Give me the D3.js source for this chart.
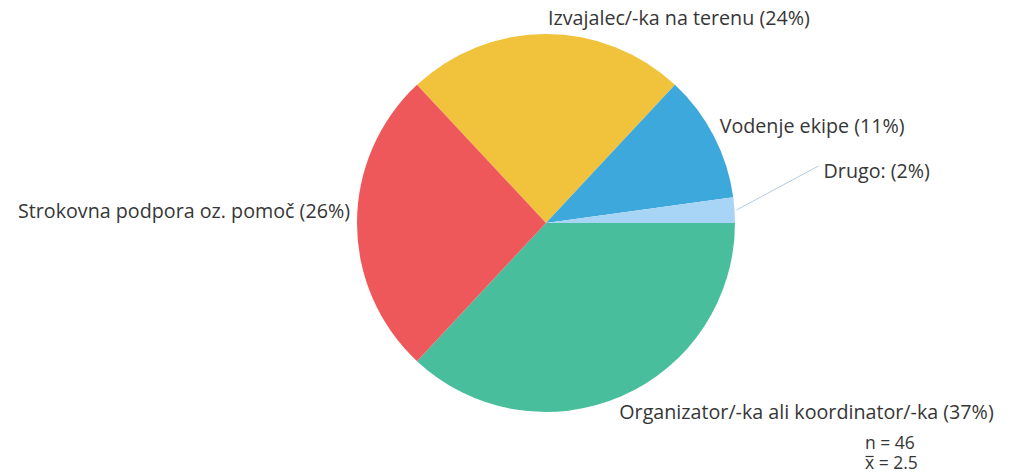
<!DOCTYPE html>
<html>
<head>
<meta charset="utf-8">
<script src="https://cdn.jsdelivr.net/npm/d3@7"></script>
<style>
  body { margin: 0; background: #fff; }
  text { font-family: "Open Sans", "Noto Sans", sans-serif; fill: #363636; }
</style>
</head>
<body>
<svg id="chart" width="1013" height="472"></svg>
<script>
// categories in drawing order (clockwise from the top-left edge of the yellow slice)
var categories = ["Izvajalec/-ka na terenu", "Vodenje ekipe", "Drugo:", "Organizator/-ka ali koordinator/-ka", "Strokovna podpora oz. pomoč"];
var counts = [11, 5, 1, 17, 12];
var colors = ["#f1c23c", "#3ca8db", "#a8d5f5", "#48be9c", "#ef585b"];
var nTotal = 46;
var mean = 2.5;

var svg = d3.select("#chart");
var cx = 546, cy = 223, r = 189;
var total = d3.sum(counts);

var startA = -Math.PI * counts[0] / total;
var pie = d3.pie().sort(null).value(function(d) { return d; })
  .startAngle(startA).endAngle(startA + 2 * Math.PI);
var arcs = pie(counts);
var arc = d3.arc().innerRadius(0).outerRadius(r);

var g = svg.append("g").attr("transform", "translate(" + cx + "," + cy + ")");

g.selectAll("path.slice")
  .data(arcs)
  .enter().append("path")
  .attr("class", "slice")
  .attr("d", arc)
  .attr("fill", function(d, i) { return colors[i]; });

function pct(i) { return Math.round(counts[i] / total * 100); }
function midPoint(d, rad) {
  var a = (d.startAngle + d.endAngle) / 2;
  return [rad * Math.sin(a), -rad * Math.cos(a)];
}

var fs = 19.7;
arcs.forEach(function(d, i) {
  var label = categories[i] + " (" + pct(i) + "%)";
  var p = midPoint(d, r + 10);
  var anchor = p[0] < -1 ? "end" : "start";
  var x = p[0], y = p[1];
  if (i === 0) { x = p[0] + 2; y = p[1] + 1; }
  if (i === 1) { x = p[0] - 3; y = p[1] + 1.5; }
  if (i === 3) { x = p[0] - 6; y = p[1] + 13.5; }
  if (i === 4) { x = p[0] + 3; y = p[1] - 5; }
  if (i === 2) {
    // small slice: leader line up and to the right
    var e = midPoint(d, r + 2);
    var end = [e[0] + 82, e[1] - 44];
    g.append("path")
      .attr("d", d3.line()([e, end]))
      .attr("stroke", "#b3cbe0")
      .attr("stroke-width", 1)
      .attr("fill", "none");
    x = end[0] + 5; y = end[1] + 12;
  }
  g.append("text")
    .attr("x", x).attr("y", y)
    .attr("text-anchor", anchor)
    .style("font-size", fs + "px")
    .text(label);
});

// n and mean, bottom right
var stats = svg.append("g").attr("transform", "translate(865,0)");
stats.append("text").attr("x", 0).attr("y", 449).style("font-size", "17.5px").text("n = " + nTotal);
var meanText = stats.append("text").attr("x", 0).attr("y", 469).style("font-size", "17.5px").text("x = " + mean);
var xw = meanText.node().getSubStringLength(0, 1);
stats.append("line")
  .attr("x1", 0.5).attr("x2", xw - 0.5)
  .attr("y1", 456.5).attr("y2", 456.5)
  .attr("stroke", "#363636").attr("stroke-width", 1.2);
</script>
</body>
</html>
